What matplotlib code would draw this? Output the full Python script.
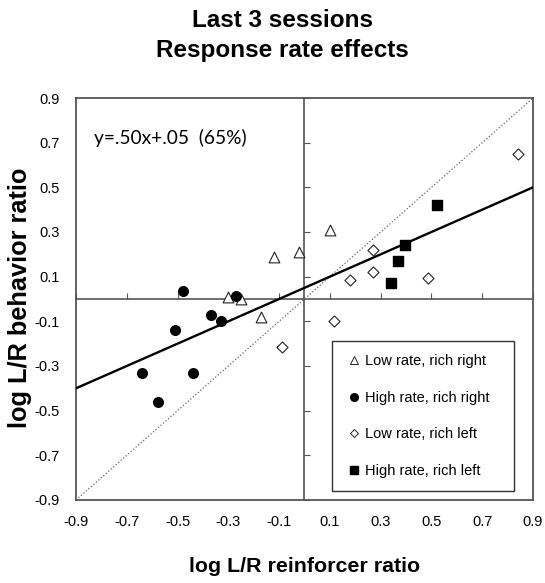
import numpy as np
import matplotlib.pyplot as plt
from matplotlib.lines import Line2D

# datos (log L/R reforzador, log L/R conducta)
low_right_x = [-0.30, -0.25, -0.12, -0.02, 0.10, -0.17]
low_right_y = [0.01, 0.00, 0.19, 0.21, 0.31, -0.08]

high_right_x = [-0.48, -0.27, -0.37, -0.33, -0.51, -0.64, -0.44, -0.575]
high_right_y = [0.035, 0.015, -0.07, -0.10, -0.14, -0.33, -0.33, -0.46]

low_left_x = [0.84, 0.27, 0.18, 0.27, 0.485, 0.115, -0.09]
low_left_y = [0.65, 0.22, 0.085, 0.12, 0.095, -0.10, -0.215]

high_left_x = [0.52, 0.395, 0.37, 0.34]
high_left_y = [0.42, 0.24, 0.17, 0.07]

slope = 0.50
intercept = 0.05
ticks = [-0.9, -0.7, -0.5, -0.3, -0.1, 0.1, 0.3, 0.5, 0.7, 0.9]
labels = ["Low rate, rich right", "High rate, rich right", "Low rate, rich left", "High rate, rich left"]

plt.rcParams['font.family'] = ['Liberation Sans', 'DejaVu Sans']

fig = plt.figure(figsize=(5.45, 5.83), dpi=100)
ax = fig.add_axes([0.1394, 0.1424, 0.8386, 0.6895])

gris = '#555555'
ax.set_xlim(-0.9, 0.9)
ax.set_ylim(-0.9, 0.9)
for s in ax.spines.values():
    s.set_color(gris)
    s.set_linewidth(1.3)

ax.set_xticks(ticks)
ax.set_yticks(ticks)
ax.set_xticklabels([f"{t:.1f}" for t in ticks])
ax.set_yticklabels([f"{t:.1f}" for t in ticks])
ax.tick_params(length=0, labelsize=10.5, pad=11)
ax.tick_params(axis='y', pad=12)

# ejes en el cero, con las marcas
secx = ax.secondary_xaxis(0.5)
secx.set_xticks(ticks)
secx.tick_params(direction='out', length=4, color=gris, labelbottom=False, labeltop=False)
for k in ['bottom', 'top']:
    secx.spines[k].set_color(gris)
    secx.spines[k].set_linewidth(1.2)

secy = ax.secondary_yaxis(0.5)
secy.set_yticks(ticks)
secy.tick_params(direction='out', length=4, color=gris, labelleft=False, labelright=False)
for k in ['left', 'right']:
    secy.spines[k].set_color(gris)
    secy.spines[k].set_linewidth(1.2)

# linea de igualdad y ajuste
xx = np.array([-0.9, 0.9])
ax.plot(xx, xx, ls=':', color='#666666', lw=0.9, zorder=2)
ax.plot(xx, slope * xx + intercept, color='black', lw=1.7, zorder=3)

ax.scatter(low_right_x, low_right_y, marker='^', s=60, facecolors='white', edgecolors='#222222', linewidths=0.8, zorder=4)
ax.scatter(high_right_x, high_right_y, marker='o', s=48, color='black', zorder=4)
ax.scatter(low_left_x, low_left_y, marker='D', s=32, facecolors='white', edgecolors='#222222', linewidths=0.8, zorder=4)
ax.scatter(high_left_x, high_left_y, marker='s', s=48, color='black', zorder=4)

ax.text(-0.83, 0.72, "y=.50x+.05  (65%)", fontsize=13.8, family=['Lato', 'DejaVu Sans'], va='center')

handles = [
    Line2D([], [], ls='none', marker='^', ms=5.5, mfc='white', mec='#222222', mew=0.7),
    Line2D([], [], ls='none', marker='o', ms=5.5, mfc='black', mec='black'),
    Line2D([], [], ls='none', marker='D', ms=4.2, mfc='white', mec='#222222', mew=0.7),
    Line2D([], [], ls='none', marker='s', ms=5.5, mfc='black', mec='black'),
]
leg = ax.legend(handles, labels, loc='lower left', bbox_to_anchor=(0.56, 0.022, 0.398, 0.364),
                mode='expand', fontsize=10.5, labelspacing=1.55, handlelength=1.2, handletextpad=0.2,
                borderpad=0.9, fancybox=False, framealpha=1, borderaxespad=0)
leg.get_frame().set_edgecolor('#333333')
leg.get_frame().set_linewidth(1.0)

fig.text(0.519, 0.953, "Last 3 sessions", ha='center', va='baseline', fontsize=17.5, fontweight='bold')
fig.text(0.519, 0.902, "Response rate effects", ha='center', va='baseline', fontsize=17.5, fontweight='bold')
fig.text(0.559, 0.029, "log L/R reinforcer ratio", ha='center', va='center', fontsize=15.4, fontweight='bold')
fig.text(0.036, 0.49, "log L/R behavior ratio", ha='center', va='center', rotation=90, fontsize=18.3, fontweight='bold')

fig.savefig("out.png", dpi=100)
plt.close()
